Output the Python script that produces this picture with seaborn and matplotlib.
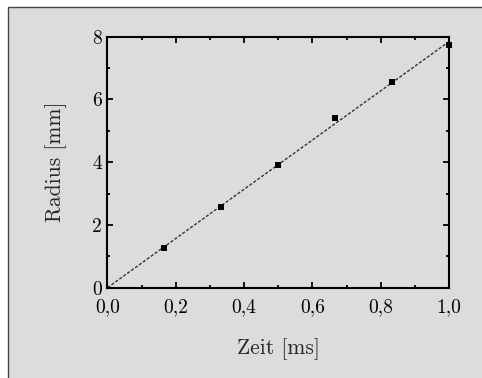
import numpy as np
import pandas as pd
import matplotlib
matplotlib.use("Agg")
import matplotlib.pyplot as plt
from matplotlib.patches import Rectangle
from matplotlib.ticker import MultipleLocator, FixedLocator, FixedFormatter
import seaborn as sns

# data
zeit = [1/6, 2/6, 3/6, 4/6, 5/6, 1.0]
radius = [1.25, 2.58, 3.91, 5.40, 6.55, 7.74]
xticks = [0.0, 0.2, 0.4, 0.6, 0.8, 1.0]
xticklabels = ["0,0", "0,2", "0,4", "0,6", "0,8", "1,0"]
yticks = [0, 2, 4, 6, 8]
yticklabels = ["0", "2", "4", "6", "8"]

bg = "#dcdcdc"

sns.set_style("ticks")
plt.rcParams["font.family"] = ["cmr10", "DejaVu Serif"]
plt.rcParams["axes.formatter.use_mathtext"] = True
plt.rcParams["mathtext.fontset"] = "cm"

df = pd.DataFrame({"zeit": zeit, "radius": radius})

# linear fit through the origin
slope = np.sum(df.zeit * df.radius) / np.sum(df.zeit ** 2)
fit = pd.DataFrame({"zeit": [0.0, 1.0]})
fit["radius"] = slope * fit.zeit

fig = plt.figure(figsize=(4.82, 3.78), dpi=100)
fig.patch.set_facecolor("white")
frame = Rectangle((8/482, -0.01), 1.0, 1 - 7/378 + 0.01, transform=fig.transFigure,
                  facecolor=bg, edgecolor="#444444", linewidth=1.0, zorder=-10)
fig.patches.append(frame)

ax = fig.add_axes([0.223, 0.239, 0.7085, 0.664])
ax.set_facecolor(bg)

sns.lineplot(data=fit, x="zeit", y="radius", ax=ax, color="#333333",
             linestyle=(0, (2.2, 1.3)), linewidth=1.0)
sns.scatterplot(data=df, x="zeit", y="radius", ax=ax, marker="s", s=22,
                color="black", edgecolor="black", linewidth=0, zorder=3, clip_on=False)

ax.set_xlim(0, 1)
ax.set_ylim(0, 8)
ax.xaxis.set_major_locator(FixedLocator(xticks))
ax.xaxis.set_major_formatter(FixedFormatter(xticklabels))
ax.yaxis.set_major_locator(FixedLocator(yticks))
ax.yaxis.set_major_formatter(FixedFormatter(yticklabels))
ax.xaxis.set_minor_locator(MultipleLocator(0.1))
ax.yaxis.set_minor_locator(MultipleLocator(1))

for s in ax.spines.values():
    s.set_visible(True)
    s.set_linewidth(1.5)
    s.set_color("black")

ax.tick_params(which="both", direction="in", top=True, right=True, colors="black",
               labelsize=14, width=1.3)
ax.tick_params(which="major", length=4.5)
ax.tick_params(axis="x", which="major", pad=7.5)
ax.tick_params(axis="y", which="major", pad=4)
ax.tick_params(which="minor", length=2.5)

ax.set_xlabel("Zeit [ms]", fontsize=15.5, labelpad=16)
ax.set_ylabel("Radius [mm]", fontsize=15.5, labelpad=18)

fig.savefig("out.png", dpi=100, facecolor="white")
